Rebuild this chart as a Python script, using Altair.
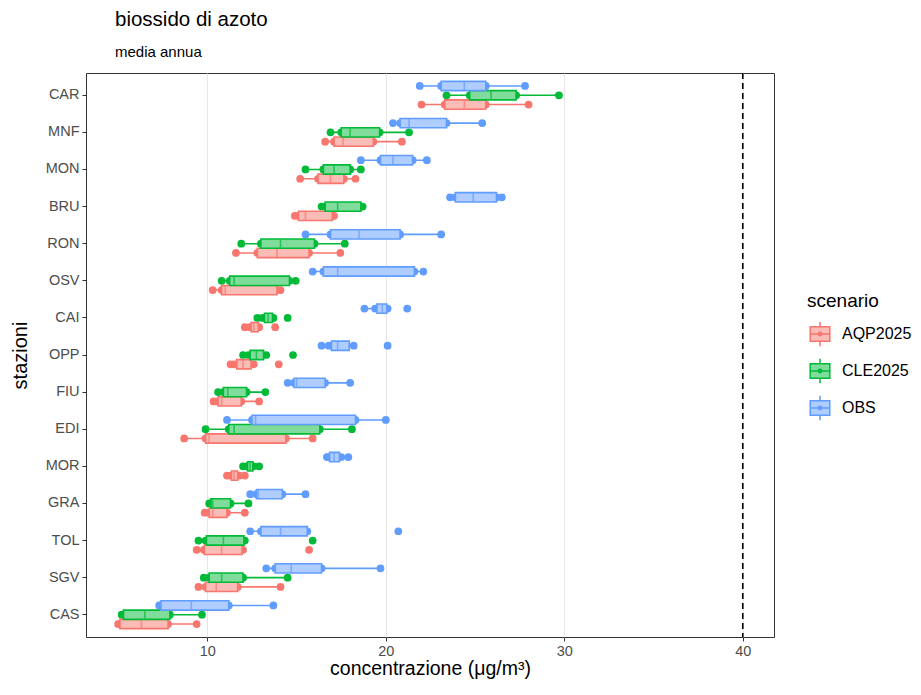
import altair as alt
import pandas as pd
import numpy as np

stations = ["CAR", "MNF", "MON", "BRU", "RON", "OSV", "CAI", "OPP",
            "FIU", "EDI", "MOR", "GRA", "TOL", "SGV", "CAS"]
scenarios = ["AQP2025", "CLE2025", "OBS"]
line_colors = ["#F8766D", "#00BA38", "#619CFF"]
fill_colors = ["#FBBBB6", "#80DC9B", "#B0CDFF"]

# annual means per station (one list per station, same order as `stations`)
obs_values = [
    [21.9, 23.1, 24.4, 25.6, 27.8],
    [20.4, 20.8, 21.3, 23.4, 25.4],
    [18.6, 19.7, 20.4, 21.5, 22.3],
    [23.6, 23.9, 24.9, 26.2, 26.5],
    [15.5, 16.9, 18.5, 20.8, 23.1],
    [15.9, 16.5, 17.3, 21.6, 22.1],
    [18.8, 19.4, 19.6, 19.8, 20.0, 20.1, 21.2],
    [16.4, 16.8, 17.1, 17.3, 17.7, 18.2, 20.1],
    [14.5, 14.85, 15.0, 16.6, 18.0],
    [11.1, 12.5, 12.7, 18.3, 20.0],
    [16.7, 16.8, 16.9, 17.1, 17.3, 17.5, 17.9],
    [12.4, 12.75, 12.85, 14.2, 15.5],
    [12.4, 13.0, 14.1, 15.6, 20.7],
    [13.3, 13.8, 14.7, 16.4, 19.7],
    [7.3, 7.4, 9.1, 11.2, 13.7],
]
cle_values = [
    [23.4, 24.7, 25.9, 27.3, 29.7],
    [16.9, 17.5, 18.0, 19.65, 21.3],
    [15.5, 16.5, 17.1, 18.0, 18.6],
    [16.4, 16.6, 17.3, 18.6, 18.7],
    [11.9, 13.0, 14.1, 16.0, 17.7],
    [10.8, 11.25, 11.5, 14.6, 14.95],
    [12.8, 13.1, 13.3, 13.4, 13.6, 13.7, 14.5],
    [12.0, 12.3, 12.5, 12.75, 13.0, 13.3, 14.8],
    [10.6, 10.9, 11.15, 12.2, 13.25],
    [9.9, 11.2, 11.5, 16.3, 18.1],
    [12.0, 12.2, 12.3, 12.4, 12.5, 12.6, 12.9],
    [10.1, 10.2, 10.3, 11.3, 12.3],
    [9.5, 9.9, 10.0, 10.9, 12.0, 12.1, 15.9],
    [9.8, 10.1, 10.8, 12.0, 14.5],
    [5.2, 5.3, 6.5, 7.9, 9.7],
]
aqp_values = [
    [22.0, 23.3, 24.4, 25.6, 28.0],
    [16.6, 17.1, 17.6, 19.3, 20.9],
    [15.2, 16.2, 16.9, 17.65, 18.3],
    [14.9, 15.1, 15.5, 17.0, 17.1],
    [11.6, 12.8, 13.9, 15.7, 17.45],
    [10.3, 10.8, 11.0, 13.9, 14.1],
    [12.1, 12.4, 12.5, 12.6, 12.8, 12.9, 13.8],
    [11.3, 11.5, 11.8, 12.0, 12.3, 12.6, 14.0],
    [10.35, 10.6, 10.8, 11.9, 12.9],
    [8.7, 9.9, 10.1, 14.4, 15.9],
    [11.1, 11.3, 11.4, 11.5, 11.6, 11.8, 12.1],
    [9.85, 10.1, 10.3, 11.1, 12.1],
    [9.4, 9.8, 9.85, 10.8, 11.9, 12.0, 15.7],
    [9.5, 9.9, 10.5, 11.7, 14.1],
    [5.0, 5.1, 6.3, 7.8, 9.4],
]
limit_value = [40]

rows = []
for scen, per_station in zip(scenarios, [aqp_values, cle_values, obs_values]):
    for st, vals in zip(stations, per_station):
        for v in vals:
            rows.append({"station": st, "scenario": scen, "value": v})
points = pd.DataFrame(rows)

stat_rows = []
for (st, sc), g in points.groupby(["station", "scenario"]):
    v = np.sort(g["value"].values)
    q1, med, q3 = np.percentile(v, [25, 50, 75])
    iqr = q3 - q1
    lo = v[v >= q1 - 1.5 * iqr].min()
    hi = v[v <= q3 + 1.5 * iqr].max()
    stat_rows.append({"station": st, "scenario": sc, "q1": q1, "med": med,
                      "q3": q3, "lo": lo, "hi": hi})
stats = pd.DataFrame(stat_rows)

FONT = "Liberation Sans"
xtitle = "concentrazione (μg/m³)"
xscale = alt.Scale(domain=[3.2, 41.75], nice=False, zero=False)
xaxis = alt.Axis(values=[10, 20, 30, 40], grid=True, gridColor="#E6E6E6",
                 domain=False, tickColor="#333333", tickSize=4,
                 labelColor="#4D4D4D", labelFontSize=14.5, labelPadding=3,
                 titleFontSize=19.5, titleFontWeight="normal", titleColor="black",
                 titlePadding=2)

y_enc = alt.Y("station:N", sort=stations,
              scale=alt.Scale(paddingInner=0, paddingOuter=0.1),
              axis=alt.Axis(title="stazioni", grid=False, domain=False,
                            tickColor="#333333", tickSize=4, labelColor="#4D4D4D",
                            labelFontSize=14.5, labelPadding=3, titleFontSize=20,
                            titleFontWeight="normal", titleColor="black",
                            titlePadding=15))
yoff_enc = alt.YOffset("scenario:N", sort=["OBS", "CLE2025", "AQP2025"],
                       scale=alt.Scale(paddingInner=0, paddingOuter=0.5))

# color scale: data-driven domain (alphabetical) so that its hidden legend
# is not merged with the visible fill/stroke legend
color_scale = alt.Scale(range=line_colors)
stroke_scale = alt.Scale(domain=scenarios, range=line_colors)
fill_scale = alt.Scale(domain=scenarios, range=fill_colors)

legend_path = ("M-0.8,-0.6H0.8V0.6H-0.8Z M-0.8,0H0.8 M0,-0.6V-1 M0,0.6V1 "
               "M0.14,0A0.14,0.14 0 1,1 -0.14,0A0.14,0.14 0 1,1 0.14,0")
legend = alt.Legend(title="scenario", orient="none", legendX=721, legendY=219,
                    titleFontSize=19, titleFontWeight="normal", titleColor="black",
                    labelFontSize=16, labelColor="black", symbolType=legend_path,
                    symbolSize=600, symbolStrokeWidth=1.5, rowPadding=5,
                    titlePadding=10, labelOffset=9)

whiskers = alt.Chart(stats).mark_rule(strokeWidth=1.6).encode(
    x=alt.X("lo:Q", scale=xscale, axis=xaxis, title=xtitle),
    x2="hi:Q",
    y=y_enc, yOffset=yoff_enc,
    color=alt.Color("scenario:N", scale=color_scale, legend=None),
)

dots = alt.Chart(points).mark_circle(size=60, opacity=1).encode(
    x=alt.X("value:Q", scale=xscale, axis=xaxis, title=xtitle),
    y=y_enc, yOffset=yoff_enc,
    color=alt.Color("scenario:N", scale=color_scale, legend=None),
)

boxes = alt.Chart(stats).mark_bar(strokeWidth=1.6, opacity=1).encode(
    x=alt.X("q1:Q", scale=xscale, axis=xaxis, title=xtitle),
    x2="q3:Q",
    y=y_enc, yOffset=yoff_enc,
    fill=alt.Fill("scenario:N", scale=fill_scale, legend=legend),
    stroke=alt.Stroke("scenario:N", scale=stroke_scale, legend=legend),
)

medians = alt.Chart(stats).mark_tick(orient="vertical", size=8, thickness=1.6).encode(
    x=alt.X("med:Q", scale=xscale, axis=xaxis, title=xtitle),
    y=y_enc, yOffset=yoff_enc,
    color=alt.Color("scenario:N", scale=color_scale, legend=None),
)

limit = alt.Chart(pd.DataFrame({"v": limit_value})).mark_rule(
    color="black", strokeDash=[6, 4], strokeWidth=1.6
).encode(x=alt.X("v:Q", scale=xscale, axis=xaxis, title=xtitle))

chart = alt.layer(whiskers, dots, boxes, medians, limit).properties(
    width=688, height=564,
    autosize=alt.AutoSizeParams(type="none"),
    padding={"left": 78, "top": 65, "right": 139, "bottom": 45},
    title=alt.TitleParams("biossido di azoto", subtitle="media annua",
                          anchor="start", frame="group", dx=29, offset=12,
                          fontSize=20.5, fontWeight="normal", color="black",
                          subtitleFontSize=15, subtitleColor="black",
                          subtitlePadding=15, font=FONT, subtitleFont=FONT),
).configure(font=FONT).configure_view(stroke="#333333", strokeWidth=1)

chart.save("out.html", embed_options={"renderer": "svg", "actions": False})
